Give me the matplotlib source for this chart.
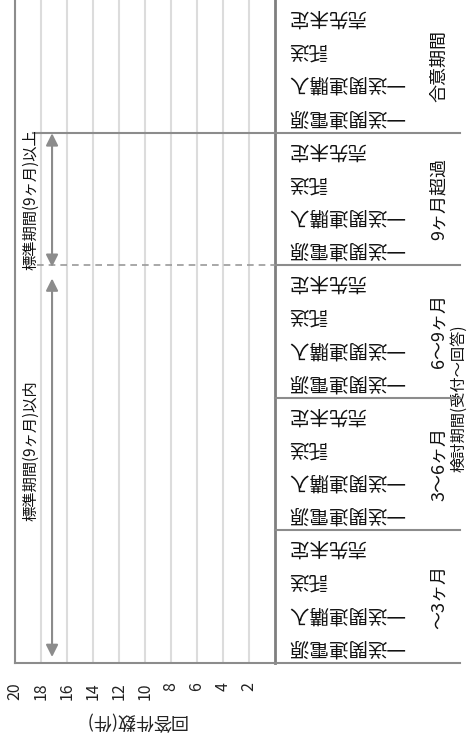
import matplotlib
matplotlib.use('Agg')
import matplotlib.pyplot as plt

plt.rcParams['font.family'] = ['Noto Sans CJK JP', 'DejaVu Sans']

# ---- data ----
groups = ['～3ヶ月', '3～6ヶ月', '6～9ヶ月', '9ヶ月超過', '合意期間']
categories = ['一送関連電源', '一送関連購入', '託送', '売先未定']
counts_3m = [0, 0, 0, 0]
counts_3_6m = [0, 0, 0, 0]
counts_6_9m = [0, 0, 0, 0]
counts_over9m = [0, 0, 0, 0]
counts_agreed = [0, 0, 0, 0]
xticks = [2, 4, 6, 8, 10, 12, 14, 16, 18, 20]
axis_title = '回答件数(件)'
super_label = '検討期間(受付～回答)'
band_within = '標準期間(9ヶ月)以内'
band_over = '標準期間(9ヶ月)以上'

all_counts = [counts_3m, counts_3_6m, counts_6_9m, counts_over9m, counts_agreed]

W, H = 467, 741
fig = plt.figure(figsize=(W / 100, H / 100), dpi=100)
x0, x1, y0, y1 = 15, 275, 0, 663
ax = fig.add_axes([x0 / W, (H - y1) / H, (x1 - x0) / W, (y1 - y0) / H])

pos = []
vals = []
labels = []
for gi, cnts in enumerate(all_counts):
    for ci, v in enumerate(cnts):
        pos.append(gi * len(categories) + ci)
        vals.append(v)
        labels.append(categories[ci])

ax.barh(pos, vals, height=0.6, color='#4472c4', zorder=3)
ax.set_xlim(20, 0)
ax.set_ylim(-0.5, len(pos) - 0.5)

ax.set_xticks(xticks)
ax.set_xticklabels([str(t) for t in xticks], rotation=90, fontsize=11.5, color='#222222')
ax.tick_params(axis='x', length=0, pad=14)
ax.set_yticks([])
ax.grid(axis='x', color='#dcdcdc', lw=1.5, zorder=0)

for s in ['left', 'bottom']:
    ax.spines[s].set_color('#8c8c8c')
    ax.spines[s].set_linewidth(1.5)
ax.spines['right'].set_color('#7f7f7f')
ax.spines['right'].set_linewidth(2)
ax.spines['top'].set_visible(False)

# axis title (rotated)
ax.text((135 - x0) / (x1 - x0), -(720 - y1) / (y1 - y0), axis_title, transform=ax.transAxes,
        rotation=180, ha='center', va='center', fontsize=13, color='#222222')

ty = ax.get_yaxis_transform()
# category labels
for p, lab in zip(pos, labels):
    ax.text((288 - x0) / (x1 - x0), p, lab, transform=ty, rotation=180,
            ha='left', va='center', fontsize=14, color='#111111', clip_on=False)

# group labels and separators
n = len(categories)
for gi, g in enumerate(groups):
    ax.text((439 - x0) / (x1 - x0), gi * n + (n - 1) / 2, g, transform=ty, rotation=90,
            ha='center', va='center', fontsize=13, color='#111111', clip_on=False)
for gi in range(len(groups)):
    yb = gi * n - 0.5
    ax.plot([1.0, (460 - x0) / (x1 - x0)], [yb, yb], transform=ty, color='#8c8c8c',
            lw=1.5, clip_on=False, zorder=4)

# super label spanning first four groups
ax.text((459 - x0) / (x1 - x0), (4 * n - 1) / 2, super_label, transform=ty, rotation=90,
        ha='center', va='center', fontsize=11, color='#111111', clip_on=False)

# boundary lines inside plot
ax.plot([18.6, 0], [4 * n - 0.5, 4 * n - 0.5], color='#8c8c8c', lw=1.5, zorder=4)
ax.plot([18.3, 0], [3 * n - 0.5, 3 * n - 0.5], color='#9a9a9a', lw=1.2,
        linestyle=(0, (4, 3)), zorder=4)

# arrows
ax_arrow = 17.15
ap = dict(arrowstyle='<|-|>', color='#8c8c8c', lw=1.5, mutation_scale=18,
          shrinkA=0, shrinkB=0)
ax.annotate('', xy=(ax_arrow, 11.1), xytext=(ax_arrow, -0.32), arrowprops=ap, zorder=5)
ax.annotate('', xy=(ax_arrow, 15.48), xytext=(ax_arrow, 11.45), arrowprops=ap, zorder=5)

ax.text(18.77, 5.9, band_within, rotation=90, ha='center', va='center',
        fontsize=11, color='#111111', zorder=6)
ax.text(18.77, 13.47, band_over, rotation=90, ha='center', va='center',
        fontsize=11, color='#111111', zorder=6)

fig.savefig('out.png', dpi=100, facecolor='white')
